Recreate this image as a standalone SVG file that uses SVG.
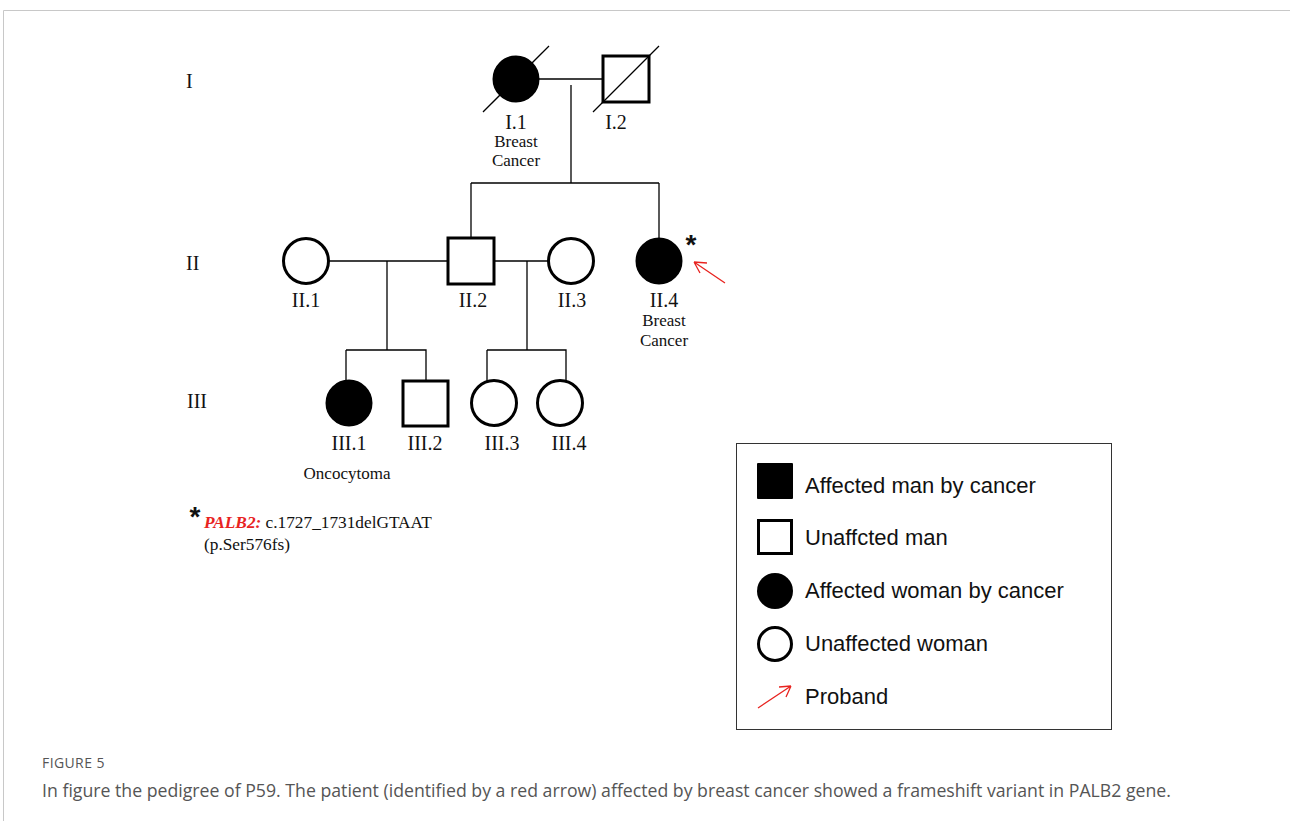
<svg xmlns="http://www.w3.org/2000/svg" width="1290" height="821" viewBox="0 0 1290 821">
<style>
.ln{stroke:#000;stroke-width:1.3;fill:none}
.sym{stroke:#000;stroke-width:3;fill:#fff}
.aff{fill:#000;stroke:#000;stroke-width:2}
.lbl{font-family:"Liberation Serif",serif;font-size:20px;fill:#111;text-anchor:middle}
.sm{font-family:"Liberation Serif",serif;font-size:17px;fill:#111;text-anchor:middle}
.gen{font-family:"Liberation Serif",serif;font-size:20px;fill:#111}
.leg{font-family:"Liberation Sans",Arial,sans-serif;font-size:22px;fill:#111}
.red{stroke:#e8231f;stroke-width:1.3;fill:none}
</style>
<rect width="1290" height="821" fill="#fff"/>
<path d="M3.5 821V10.5H1290" fill="none" stroke="#c8c8c8" stroke-width="1"/>

<g id="connectors">
<path class="ln" d="M539 79H603"/>
<path class="ln" d="M571 85V183"/>
<path class="ln" d="M471 183H659"/>
<path class="ln" d="M471 183V238"/>
<path class="ln" d="M659 183V238"/>
<path class="ln" d="M329 261H448"/>
<path class="ln" d="M387 261V350"/>
<path class="ln" d="M494 261H548"/>
<path class="ln" d="M527 261V350"/>
<path class="ln" d="M346 350H426V381"/>
<path class="ln" d="M346 350V381"/>
<path class="ln" d="M487 350H566V381"/>
<path class="ln" d="M487 350V381"/>
</g>

<g id="gen-labels">
<text class="gen" x="186" y="88">I</text>
<text class="gen" x="186" y="270">II</text>
<text class="gen" x="187" y="408">III</text>
</g>

<g id="I1">
<circle class="aff" cx="516" cy="79" r="22.5"/>
<path class="ln" d="M483 112L549 46"/>
<text class="lbl" x="516" y="129">I.1</text>
<text class="sm" x="516" y="147">Breast</text>
<text class="sm" x="516" y="166">Cancer</text>
</g>
<g id="I2">
<rect class="sym" x="603" y="56" width="46" height="46"/>
<path class="ln" d="M593 112L659 46"/>
<text class="lbl" x="616" y="129">I.2</text>
</g>

<g id="II1">
<circle class="sym" cx="306" cy="261" r="22.5"/>
<text class="lbl" x="306" y="307">II.1</text>
</g>
<g id="II2">
<rect class="sym" x="448" y="238" width="46" height="46"/>
<text class="lbl" x="473" y="307">II.2</text>
</g>
<g id="II3">
<circle class="sym" cx="571" cy="261" r="22.5"/>
<text class="lbl" x="572" y="307">II.3</text>
</g>
<g id="II4">
<circle class="aff" cx="659" cy="261" r="22.5"/>
<text x="691" y="254" font-family="Liberation Sans,sans-serif" font-size="28" font-weight="bold" fill="#111" text-anchor="middle">*</text>
<path class="red" d="M725 283L694 262M694 262L707 263M694 262L700 273"/>
<text class="lbl" x="664" y="307">II.4</text>
<text class="sm" x="664" y="326">Breast</text>
<text class="sm" x="664" y="346">Cancer</text>
</g>

<g id="III1">
<circle class="aff" cx="349" cy="403" r="22.5"/>
<text class="lbl" x="349" y="450">III.1</text>
<text class="sm" x="347" y="479">Oncocytoma</text>
</g>
<g id="III2">
<rect class="sym" x="403" y="381" width="45" height="45"/>
<text class="lbl" x="425" y="450">III.2</text>
</g>
<g id="III3">
<circle class="sym" cx="494" cy="403" r="22.5"/>
<text class="lbl" x="502" y="450">III.3</text>
</g>
<g id="III4">
<circle class="sym" cx="560" cy="403" r="22.5"/>
<text class="lbl" x="569" y="450">III.4</text>
</g>

<g id="footnote">
<text x="195" y="526" font-family="Liberation Sans,sans-serif" font-size="28" font-weight="bold" fill="#111" text-anchor="middle">*</text>
<text x="204" y="528" font-family="Liberation Serif,serif" font-size="17.3" fill="#111"><tspan fill="#e8231f" font-weight="bold" font-style="italic">PALB2:</tspan> c.1727_1731delGTAAT</text>
<text x="204" y="550" font-family="Liberation Serif,serif" font-size="17.3" fill="#111">(p.Ser576fs)</text>
</g>

<g id="legend">
<rect x="736.5" y="443.5" width="375" height="286" fill="#fff" stroke="#333" stroke-width="1"/>
<rect x="757" y="463" width="36" height="36" rx="1" fill="#000"/>
<text class="leg" x="805" y="493">Affected man by cancer</text>
<rect x="758.5" y="520.5" width="33" height="33" fill="#fff" stroke="#000" stroke-width="3"/>
<text class="leg" x="805" y="545">Unaffcted man</text>
<circle cx="775" cy="591" r="18" fill="#000"/>
<text class="leg" x="805" y="598">Affected woman by cancer</text>
<circle cx="775" cy="644" r="16.5" fill="#fff" stroke="#000" stroke-width="3"/>
<text class="leg" x="805" y="651">Unaffected woman</text>
<path class="red" d="M758 708L791 686M791 686L779 687M791 686L786 697"/>
<text class="leg" x="805" y="704">Proband</text>
</g>

<g id="caption">
<text x="42" y="768" font-family="Open Sans,sans-serif" font-size="14" fill="#555" letter-spacing="0.4">FIGURE 5</text>
<text x="42" y="797" font-family="Open Sans,sans-serif" font-size="17.7" fill="#555">In figure the pedigree of P59. The patient (identified by a red arrow) affected by breast cancer showed a frameshift variant in PALB2 gene.</text>
</g>
</svg>
